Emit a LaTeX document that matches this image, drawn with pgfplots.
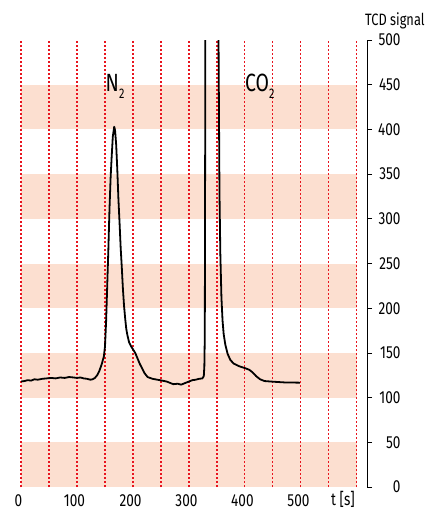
\documentclass[border=0pt]{standalone}
\usepackage{fontspec}
\setmainfont{Fira Sans}[FakeStretch=0.78]
\usepackage{pgfplots}
\pgfplotsset{compat=1.18}
\definecolor{band}{RGB}{252,223,208}
\definecolor{redline}{RGB}{232,20,30}
\begin{document}
\begin{tikzpicture}
\begin{axis}[
  set layers,
  scale only axis, width=346bp, height=447bp,
  xmin=0, xmax=618, ymin=0, ymax=500,
  axis y line=right, axis x line=bottom,
  axis line style={-, line width=0.8bp},
  x axis line style={draw=none},
  xtick={0,50,...,600},
  xticklabels={0,,100,,200,,300,,400,,500,,},
  xtick style={draw=none},
  xmajorgrids,
  grid style={draw=redline, line width=1.1bp, dash pattern=on 2.2bp off 1.8bp},
  ytick={0,50,...,500},
  y tick style={black, line width=0.8bp},
  tick align=outside, major tick length=5bp,
  /pgf/number format/assume math mode=true,
  ticklabel style={font=\fontsize{17.5}{17.5}\selectfont},
  yticklabel style={text width=25bp, align=right},
  xticklabel style={yshift=1bp, xshift=-2.5bp},
  clip mode=individual,
]
\begin{pgfonlayer}{axis background}
\fill[band] (axis cs:0,0) rectangle (axis cs:600,50);
\fill[band] (axis cs:0,100) rectangle (axis cs:600,150);
\fill[band] (axis cs:0,200) rectangle (axis cs:600,250);
\fill[band] (axis cs:0,300) rectangle (axis cs:600,350);
\fill[band] (axis cs:0,400) rectangle (axis cs:600,450);
\end{pgfonlayer}
\addplot[black, line width=1.8bp, line join=round] table {
0 118
6 118.5
12 119.5
18 119
24 120.5
30 120
38 121
46 121.5
54 122
62 121.5
70 122.5
78 122
86 123
94 122.5
100 122
106 122.5
112 121.5
118 121
124 120
128 120.5
132 122
136 125
140 130
144 137
148 146
150 157
152 185
154 225
156 265
158 310
160 345
162 370
164 392
166.5 403
168 399
170 383
172 355
174 322
176 296
178 268
180 246
182 222
184 203
186 189
188 177
190 170
193 162
197 157
200 154
204 150
208 144
212 138
216 133
220 128
226 123
235 121
248 119.5
260 118
266 116.5
272 115
280 115.5
286 114.5
292 116
300 118
306 119.5
312 120
318 121
324 121.5
326.5 124
327.5 135
328.3 170
329 400
329.6 1000
331 3000
350 3000
351.5 900
352.8 500
354.5 330
356 262
358 212
360 186
362 171
365 159
369 149
374 142
380 138
390 135
400 133
408 131
414 128
420 124
427 120.5
435 118.5
450 117.8
470 117
498 116.7
};
\node[anchor=base west, inner sep=0pt, font=\fontsize{25}{25}\selectfont] at (axis cs:151,442) {N\raisebox{-7bp}{\fontsize{14}{14}\selectfont 2}};
\node[anchor=base west, inner sep=0pt, font=\fontsize{25}{25}\selectfont] at (axis cs:400,442) {CO\raisebox{-7bp}{\fontsize{14}{14}\selectfont 2}};
\node[anchor=base west, inner sep=0pt, font=\fontsize{16.5}{16.5}\selectfont] at (rel axis cs:1,1) [yshift=15bp, xshift=-2bp] {TCD signal};
\node[anchor=base, inner sep=0pt, font=\fontsize{17.5}{17.5}\selectfont] at (axis cs:575,0) [yshift=-18bp] {t [s]};
\end{axis}
\pgfresetboundingbox
\path[use as bounding box] (-21bp,-23bp) rectangle (404bp,487bp);
\end{tikzpicture}
\end{document}
